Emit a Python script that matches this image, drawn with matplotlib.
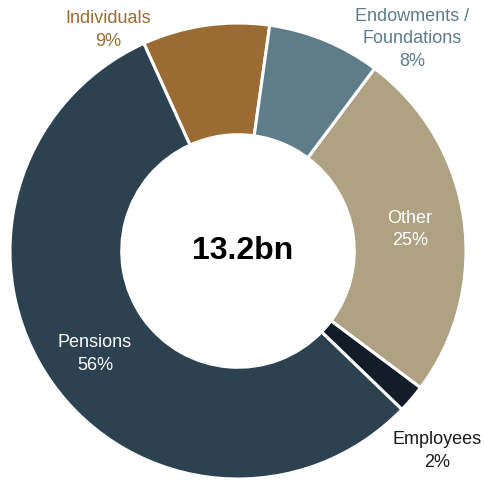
import matplotlib.pyplot as plt

plt.rcParams['font.family'] = ['Liberation Sans', 'DejaVu Sans']

labels = ['Individuals', 'Pensions', 'Employees', 'Other', 'Endowments /\nFoundations']
shares = [9, 56, 2, 25, 8]
colors = ['#9a6c34', '#2c4251', '#111e29', '#afa283', '#5e7c89']
text_colors = ['#9a6c34', 'white', '#1a1a1a', 'white', '#5e7c89']
# label anchor points (data units, radius 1 = outer edge)
label_pos = [(-0.570, 0.969), (-0.627, -0.452), (0.873, -0.877), (0.754, 0.096), (0.763, 0.930)]
total = '13.2bn'

fig = plt.figure(figsize=(4.84, 4.8), dpi=100)
ax = fig.add_axes([0, 0, 1, 1])

ax.pie(shares, colors=colors, startangle=82, counterclock=True, radius=1.0,
       wedgeprops=dict(width=0.49, edgecolor='white', linewidth=2.2))

for lab, val, tc, (x, y) in zip(labels, shares, text_colors, label_pos):
    ax.text(x, y, f'{lab}\n{val}%', ha='center', va='center', color=tc,
            fontsize=13, linespacing=1.4)

# total in the hole, sits a touch right of centre like the original
ax.text(0.02, 0.0, total, ha='center', va='center', fontsize=23, fontweight='bold', color='black')

ax.set_xlim(-238 / 228, 246 / 228)
ax.set_ylim(-229 / 228, 251 / 228)
ax.set_aspect('equal')
ax.axis('off')

fig.savefig('out.png', dpi=100)
